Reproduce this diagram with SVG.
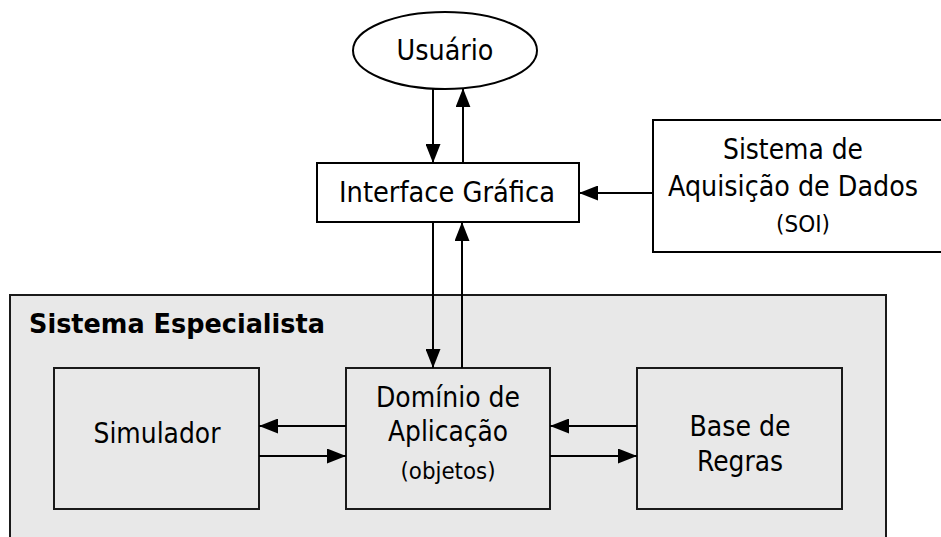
<svg xmlns="http://www.w3.org/2000/svg" width="941" height="537" viewBox="0 0 941 537">
<defs>
<style>
.box{fill:#ffffff;stroke:#000;stroke-width:2}
.gbox{fill:#e8e8e8;stroke:#1a1a1a;stroke-width:2}
.t{font-family:"DejaVu Sans","Verdana",sans-serif;font-size:28px;fill:#000;text-anchor:middle}
.s{font-family:"DejaVu Sans","Verdana",sans-serif;font-size:23px;fill:#000;text-anchor:middle}
.b{font-family:"DejaVu Sans","Verdana",sans-serif;font-size:27px;font-weight:bold;fill:#000}
.c{stroke:#000;stroke-width:2;fill:none;marker-end:url(#ah)}
</style>
<marker id="ah" markerUnits="userSpaceOnUse" markerWidth="19" markerHeight="15" refX="19" refY="7.5" orient="auto">
<path d="M0,0 L19,7.5 L0,15 Z" fill="#000"/>
</marker>
</defs>
<g id="sistema-especialista">
<rect class="gbox" x="10" y="295" width="876" height="260"/>
<text class="b" x="29" y="333" textLength="296" lengthAdjust="spacingAndGlyphs">Sistema Especialista</text>
</g>
<g id="usuario">
<ellipse cx="445" cy="50.5" rx="92" ry="38.5" fill="#fff" stroke="#000" stroke-width="2"/>
<text class="t" x="445" y="60" textLength="97" lengthAdjust="spacingAndGlyphs">Usuário</text>
</g>
<g id="interface">
<rect class="box" x="317" y="163" width="262" height="59"/>
<text class="t" x="447" y="202" textLength="216" lengthAdjust="spacingAndGlyphs">Interface Gráfica</text>
</g>
<g id="aquisicao">
<rect class="box" x="653" y="120" width="290" height="132"/>
<text class="t" x="793" y="159" textLength="140" lengthAdjust="spacingAndGlyphs">Sistema de</text>
<text class="t" x="793" y="196" textLength="250" lengthAdjust="spacingAndGlyphs">Aquisição de Dados</text>
<text class="s" x="803" y="232" textLength="54" lengthAdjust="spacingAndGlyphs">(SOI)</text>
</g>
<g id="simulador">
<rect class="gbox" x="54" y="368" width="205" height="141"/>
<text class="t" x="157" y="443" textLength="127" lengthAdjust="spacingAndGlyphs">Simulador</text>
</g>
<g id="dominio">
<rect class="gbox" x="346" y="368" width="204" height="141"/>
<text class="t" x="448" y="407" textLength="144" lengthAdjust="spacingAndGlyphs">Domínio de</text>
<text class="t" x="448" y="441" textLength="120" lengthAdjust="spacingAndGlyphs">Aplicação</text>
<text class="s" x="448" y="479" textLength="95" lengthAdjust="spacingAndGlyphs">(objetos)</text>
</g>
<g id="base-regras">
<rect class="gbox" x="637" y="368" width="205" height="141"/>
<text class="t" x="740" y="436" textLength="101" lengthAdjust="spacingAndGlyphs">Base de</text>
<text class="t" x="740" y="471" textLength="86" lengthAdjust="spacingAndGlyphs">Regras</text>
</g>
<g id="connectors">
<line class="c" x1="433" y1="88.7" x2="433" y2="163"/>
<line class="c" x1="463" y1="163" x2="463" y2="88.3"/>
<line class="c" x1="653" y1="193" x2="579" y2="193"/>
<line class="c" x1="433" y1="222" x2="433" y2="368"/>
<line class="c" x1="462" y1="368" x2="462" y2="222"/>
<line class="c" x1="346" y1="426" x2="259" y2="426"/>
<line class="c" x1="259" y1="456" x2="346" y2="456"/>
<line class="c" x1="637" y1="426" x2="550" y2="426"/>
<line class="c" x1="550" y1="456" x2="637" y2="456"/>
</g>
</svg>
